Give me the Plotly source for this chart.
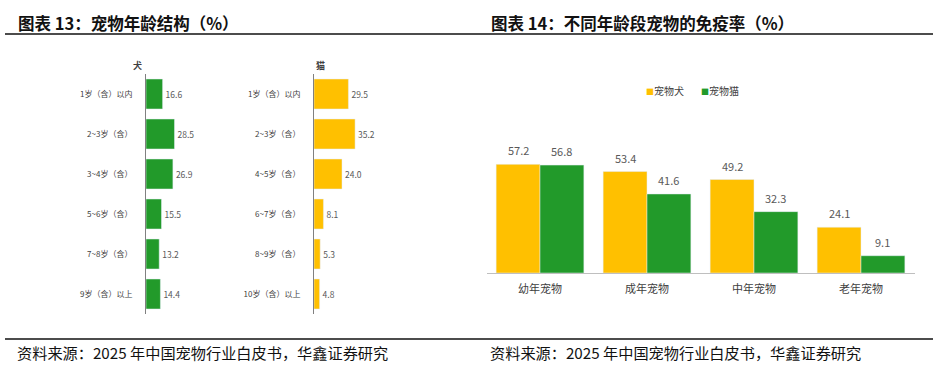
import plotly.graph_objects as go

W, H = 941, 369

# ---- data ----
dog_ages = ["1岁（含）以内", "2~3岁（含）", "3~4岁（含）", "5~6岁（含）", "7~8岁（含）", "9岁（含）以上"]
dog_share = [16.6, 28.5, 26.9, 15.5, 13.2, 14.4]
cat_ages = ["1岁（含）以内", "2~3岁（含）", "4~5岁（含）", "6~7岁（含）", "8~9岁（含）", "10岁（含）以上"]
cat_share = [29.5, 35.2, 24.0, 8.1, 5.3, 4.8]
stages = ["幼年宠物", "成年宠物", "中年宠物", "老年宠物"]
dog_immune = [57.2, 53.4, 49.2, 24.1]
cat_immune = [56.8, 41.6, 32.3, 9.1]

YELLOW = "#FFC000"
GREEN = "#229A2A"
FONT = "Noto Sans CJK SC"
TXT = "#404040"


def px(x):
    return x / W


def py(y):
    return 1 - y / H


fig = go.Figure()

# left: dog age structure
fig.add_trace(go.Bar(
    x=dog_share, y=dog_ages, orientation="h", marker_color=GREEN, width=0.75,
    text=dog_share, texttemplate="%{x:.1f}", textposition="outside",
    textfont=dict(size=8.5, color="#595959", family=FONT), cliponaxis=False,
    xaxis="x", yaxis="y", showlegend=False))
# left: cat age structure
fig.add_trace(go.Bar(
    x=cat_share, y=cat_ages, orientation="h", marker_color=YELLOW, width=0.75,
    text=cat_share, texttemplate="%{x:.1f}", textposition="outside",
    textfont=dict(size=8.5, color="#595959", family=FONT), cliponaxis=False,
    xaxis="x2", yaxis="y2", showlegend=False))
# right: immunization rate
fig.add_trace(go.Bar(x=stages, y=dog_immune, name="宠物犬", marker_color=YELLOW,
                     xaxis="x3", yaxis="y3", showlegend=False))
fig.add_trace(go.Bar(x=stages, y=cat_immune, name="宠物猫", marker_color=GREEN,
                     xaxis="x3", yaxis="y3", showlegend=False))

ann = []
half = (1 - 0.18) / 4
for i, (a, b) in enumerate(zip(dog_immune, cat_immune)):
    for off, v in ((-half, a), (half, b)):
        ann.append(dict(x=i + off, y=v, xref="x3", yref="y3", text=f"{v:.1f}",
                        showarrow=False, yanchor="middle", yshift=14,
                        font=dict(size=11, color="#595959", family=FONT)))

# titles
ann += [
    dict(x=px(16), y=py(23), xref="paper", yref="paper", xanchor="left", yanchor="middle",
         text="<b>图表 13：宠物年龄结构（%）</b>", showarrow=False,
         font=dict(size=16.5, color="#111111", family=FONT)),
    dict(x=px(489), y=py(23), xref="paper", yref="paper", xanchor="left", yanchor="middle",
         text="<b>图表 14：不同年龄段宠物的免疫率（%）</b>", showarrow=False,
         font=dict(size=16.5, color="#111111", family=FONT)),
    dict(x=px(15), y=py(352), xref="paper", yref="paper", xanchor="left", yanchor="middle",
         text="资料来源：2025 年中国宠物行业白皮书，华鑫证券研究", showarrow=False,
         font=dict(size=15.2, color="#111111", family=FONT)),
    dict(x=px(488), y=py(352), xref="paper", yref="paper", xanchor="left", yanchor="middle",
         text="资料来源：2025 年中国宠物行业白皮书，华鑫证券研究", showarrow=False,
         font=dict(size=15.2, color="#111111", family=FONT)),
    dict(x=px(137), y=py(66), xref="paper", yref="paper", xanchor="center", yanchor="middle",
         text="<b>犬</b>", showarrow=False, font=dict(size=9, color=TXT, family=FONT)),
    dict(x=px(320), y=py(66), xref="paper", yref="paper", xanchor="center", yanchor="middle",
         text="<b>猫</b>", showarrow=False, font=dict(size=9, color=TXT, family=FONT)),
    # legend
    dict(x=px(644), y=py(90), xref="paper", yref="paper", xanchor="left", yanchor="middle",
         text=f"<span style='color:{YELLOW};font-size:8px'>■</span>宠物犬", showarrow=False,
         font=dict(size=10, color=TXT, family=FONT)),
    dict(x=px(699), y=py(90), xref="paper", yref="paper", xanchor="left", yanchor="middle",
         text=f"<span style='color:{GREEN};font-size:8px'>■</span>宠物猫", showarrow=False,
         font=dict(size=10, color=TXT, family=FONT)),
]

shapes = [
    dict(type="line", xref="paper", yref="paper", x0=px(5), x1=px(933), y0=py(34), y1=py(34),
         line=dict(color="#111111", width=1.5)),
    dict(type="line", xref="paper", yref="paper", x0=px(5), x1=px(933), y0=py(339), y1=py(339),
         line=dict(color="#111111", width=1.5)),
]

cat_axis = dict(type="category", autorange="reversed", showline=True, linecolor="#808080",
                linewidth=1, ticks="", showgrid=False, ticklabelstandoff=11,
                tickfont=dict(size=8, color=TXT, family=FONT))

fig.update_layout(
    width=W, height=H, margin=dict(l=0, r=0, t=0, b=0),
    paper_bgcolor="white", plot_bgcolor="white",
    barmode="group", bargap=0.18, bargroupgap=0,
    annotations=ann, shapes=shapes,
    xaxis=dict(domain=[px(146), px(206)], range=[0, 60], visible=False),
    yaxis=dict(domain=[py(314), py(74)], anchor="x", **cat_axis),
    xaxis2=dict(domain=[px(314), px(384)], range=[0, 60], visible=False),
    yaxis2=dict(domain=[py(314), py(74)], anchor="x2", **cat_axis),
    xaxis3=dict(domain=[px(486.5), px(914.5)], anchor="y3", type="category",
                showline=True, linecolor="#BFBFBF", linewidth=1, ticks="",
                ticklabelstandoff=6, tickfont=dict(size=11, color=TXT, family=FONT)),
    yaxis3=dict(domain=[py(273), py(149.5)], anchor="x3", range=[0, 65], visible=False),
    font=dict(family=FONT),
)

fig.write_html("out.html", config={"displayModeBar": False})

# remove default body margin so the figure sits at the window origin
with open("out.html", encoding="utf-8") as f:
    html = f.read()
html = html.replace("<head>", "<head><style>html,body{margin:0;padding:0;overflow:hidden}</style>", 1)
with open("out.html", "w", encoding="utf-8") as f:
    f.write(html)
